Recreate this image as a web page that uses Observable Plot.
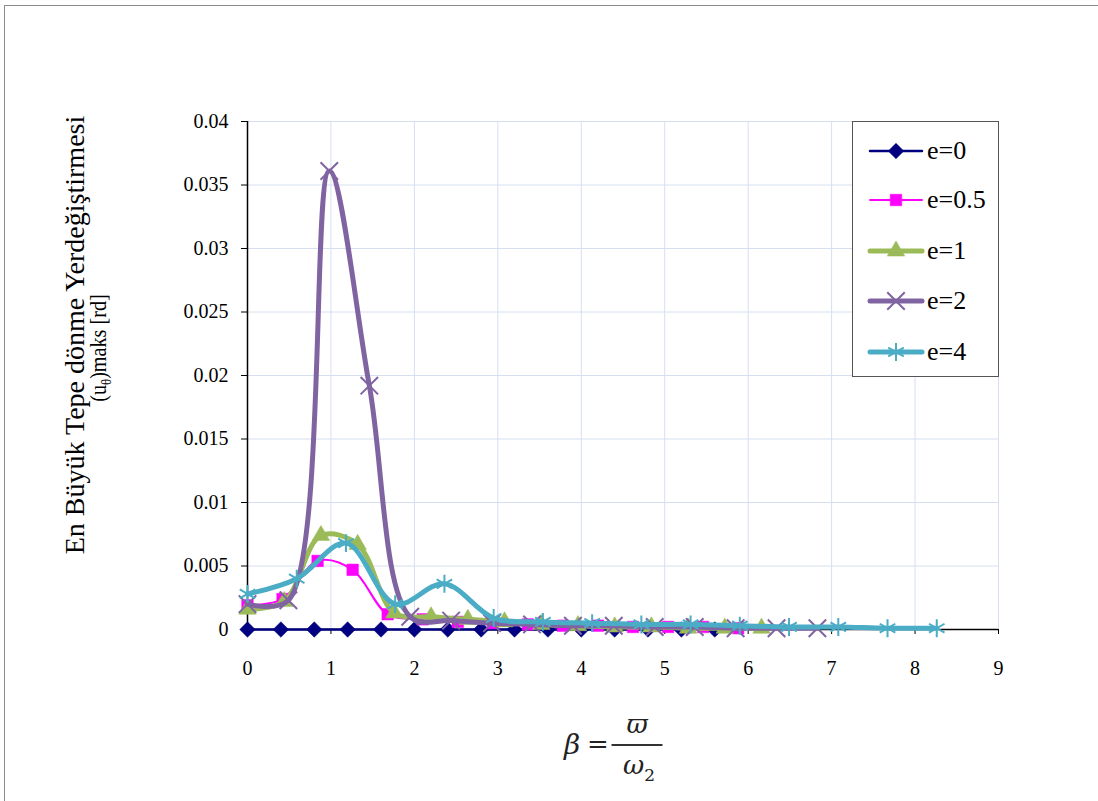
<!DOCTYPE html>
<html>
<head>
<meta charset="utf-8">
<script src="https://cdn.jsdelivr.net/npm/d3@7"></script>
<script src="https://cdn.jsdelivr.net/npm/@observablehq/plot@0.6"></script>
<style>
  body { margin: 0; background: #fff; }
  #wrap { position: relative; width: 1098px; height: 801px; overflow: hidden; font-family: "Liberation Serif", "Times New Roman", serif; }
  #frame { position: absolute; left: 4px; top: 5px; width: 1200px; height: 900px; border-left: 1px solid #8c8c8c; border-top: 1px solid #8c8c8c; }
  #chart { position: absolute; left: 0; top: 0; }
  .yl { position: absolute; white-space: nowrap; color: #000; line-height: 1; }
  .fx { position: absolute; transform: translate(-50%, -50%); font-family: "DejaVu Serif", serif; color: #222; line-height: 1; white-space: nowrap; }
  #legend { position: absolute; left: 852px; top: 121px; width: 147px; height: 256px; border: 1px solid #555; background: #fff; box-sizing: border-box; }
  .li { position: absolute; left: 14px; height: 30px; display: flex; align-items: center; font-size: 26px; }
</style>
</head>
<body>
<div id="wrap">
  <div id="frame"></div>
  <div id="chart"></div>
  <div class="yl" style="left:75px;top:335px;font-size:28px;transform:translate(-50%,-50%) rotate(-90deg)">En Büyük Tepe dönme Yerdeğiştirmesi</div>
  <div class="yl" style="left:100px;top:348px;font-size:24px;transform:translate(-50%,-50%) rotate(-90deg) scaleX(0.84)">(u<sub style="font-size:15px">θ</sub>)maks [rd]</div>
  <div class="fx" style="left:572px;top:745px;font-size:28px;font-style:italic">β</div>
  <div class="fx" style="left:598px;top:744px;font-size:26px">=</div>
  <div class="fx" style="left:637px;top:745px;width:51px;height:0;border-top:2px solid #333"></div>
  <div class="fx" style="left:637px;top:724px;font-size:26px;font-style:italic">ϖ</div>
  <div class="fx" style="left:639px;top:768px;font-size:26px;font-style:italic">ω<sub style="font-style:normal;font-size:17px">2</sub></div>
  <div id="legend"></div>
</div>
<script>
// ---- data ----
const seriesNames = ["e=0", "e=0.5", "e=1", "e=2", "e=4"];

const beta_e0  = [0, 0.4, 0.8, 1.2, 1.6, 2.0, 2.4, 2.8, 3.2, 3.6, 4.0, 4.4, 4.8, 5.2, 5.6];
const u_e0     = [0, 0, 0, 0, 0, 0, 0, 0, 0, 0, 0, 0, 0, 0, 0];

const beta_e05 = [0, 0.42, 0.84, 1.26, 1.68, 2.10, 2.52, 2.94, 3.36, 3.78, 4.20, 4.62, 5.04, 5.46, 5.88];
const u_e05    = [0.0019, 0.0024, 0.0054, 0.0047, 0.0012, 0.0008, 0.0006, 0.0005, 0.0004, 0.0003, 0.0003, 0.0002, 0.0002, 0.0002, 0.0001];

const beta_e1  = [0, 0.44, 0.88, 1.32, 1.76, 2.20, 2.64, 3.08, 3.52, 3.96, 4.40, 4.84, 5.28, 5.72, 6.16];
const u_e1     = [0.0016, 0.0022, 0.0074, 0.0067, 0.0013, 0.0010, 0.0008, 0.0006, 0.0004, 0.0003, 0.0002, 0.0002, 0.0001, 0.0001, 0.0001];

const beta_e2  = [0, 0.49, 0.98, 1.46, 1.95, 2.44, 2.93, 3.41, 3.90, 4.39, 4.88, 5.36, 5.85, 6.34, 6.83];
const u_e2     = [0.0020, 0.0023, 0.0361, 0.0192, 0.0010, 0.0007, 0.0005, 0.0004, 0.0003, 0.0003, 0.0002, 0.0002, 0.0001, 0.0001, 0.0001];

const beta_e4  = [0, 0.59, 1.18, 1.77, 2.36, 2.95, 3.54, 4.13, 4.72, 5.31, 5.90, 6.49, 7.08, 7.67, 8.26];
const u_e4     = [0.0028, 0.0040, 0.0068, 0.0020, 0.0036, 0.0009, 0.0006, 0.0005, 0.0004, 0.0004, 0.0003, 0.0002, 0.0002, 0.0001, 0.0001];

const xTicks = [0, 1, 2, 3, 4, 5, 6, 7, 8, 9];
const yTicks = [0, 0.005, 0.01, 0.015, 0.02, 0.025, 0.03, 0.035, 0.04];
const yTickLabels = ["0", "0.005", "0.01", "0.015", "0.02", "0.025", "0.03", "0.035", "0.04"];

// ---- styles per series ----
const styles = {
  "e=0":   {color: "#000080", width: 2.5, symbol: "diamond2", r: 7,   filled: true},
  "e=0.5": {color: "#FF00FF", width: 2,   symbol: "square",   r: 6.5, filled: true},
  "e=1":   {color: "#9BBB59", width: 5,   symbol: "triangle", r: 6.5, filled: true},
  "e=2":   {color: "#8064A2", width: 5,   symbol: "times",    r: 8,   filled: false},
  "e=4":   {color: "#4BACC6", width: 5,   symbol: "asterisk", r: 8.5, filled: false}
};

const betas = [beta_e0, beta_e05, beta_e1, beta_e2, beta_e4];
const us = [u_e0, u_e05, u_e1, u_e2, u_e4];
const tables = seriesNames.map((name, i) => betas[i].map((b, j) => ({beta: b, u: us[i][j], e: name})));

const seriesMarks = [];
tables.forEach((t, i) => {
  const s = styles[seriesNames[i]];
  seriesMarks.push(Plot.line(t, {x: "beta", y: "u", stroke: s.color, strokeWidth: s.width, curve: "catmull-rom", strokeLinejoin: "round", strokeLinecap: "round"}));
  seriesMarks.push(Plot.dot(t, {x: "beta", y: "u", symbol: () => s.symbol, r: s.r,
    fill: s.filled ? s.color : "none", stroke: s.color, strokeWidth: s.filled ? 0.5 : 2}));
});

const chart = Plot.plot({
  width: 1098, height: 801,
  marginLeft: 247, marginRight: 100, marginTop: 121, marginBottom: 172,
  style: {fontFamily: "'Liberation Serif', 'Times New Roman', serif", fontSize: "20px", color: "#000", background: "transparent", overflow: "visible"},
  x: {domain: [0, 9]},
  y: {domain: [0, 0.04]},
  symbol: {type: "identity"},
  marks: [
    Plot.gridX(xTicks, {stroke: "#d5dff0", strokeOpacity: 1, strokeWidth: 1}),
    Plot.gridY(yTicks, {stroke: "#d5dff0", strokeOpacity: 1, strokeWidth: 1}),
    Plot.axisY(yTicks, {tickSize: 6, tickPadding: 13, tickFormat: d => yTickLabels[yTicks.indexOf(d)], label: null, stroke: "#000", fontSize: 20}),
    Plot.axisX(xTicks, {tickSize: 5, tickPadding: 26, tickFormat: d => String(d), label: null, stroke: "#000", fontSize: 20}),
    Plot.ruleX([0], {stroke: "#000", strokeWidth: 1.5}),
    Plot.ruleY([0], {stroke: "#000", strokeWidth: 1.5}),
    ...seriesMarks
  ]
});
document.getElementById("chart").appendChild(chart);

// ---- legend ----
const legend = document.getElementById("legend");
const rowY = [14, 63, 114, 164, 215];
seriesNames.forEach((name, i) => {
  const s = styles[name];
  const row = document.createElement("div");
  row.className = "li";
  row.style.top = rowY[i] + "px";
  const sym = d3.symbol().type({diamond2: d3.symbolDiamond2, square: d3.symbolSquare, triangle: d3.symbolTriangle, times: d3.symbolTimes, asterisk: d3.symbolAsterisk}[s.symbol]).size(Math.PI * s.r * s.r)();
  row.innerHTML = `<svg width="58" height="30" style="overflow:visible"><line x1="3" x2="55" y1="15" y2="15" stroke="${s.color}" stroke-width="${s.width}" stroke-linecap="round"/><path transform="translate(29,15)" d="${sym}" fill="${s.filled ? s.color : "none"}" stroke="${s.color}" stroke-width="${s.filled ? 0.5 : 2}"/></svg><span style="margin-left:2px">${name}</span>`;
  legend.appendChild(row);
});
</script>
</body>
</html>
